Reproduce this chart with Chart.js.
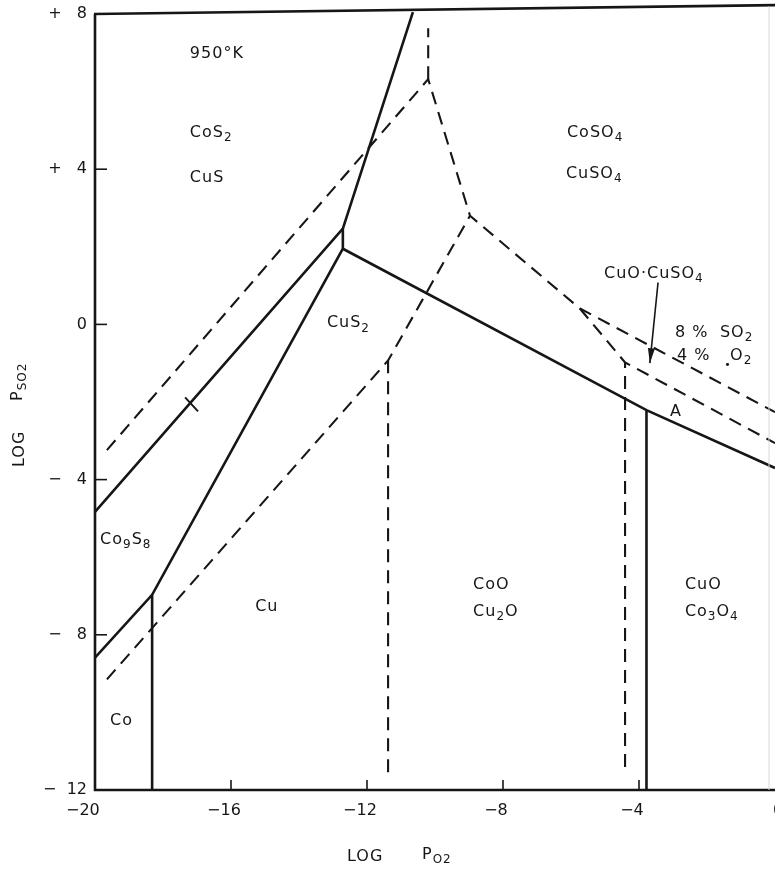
<!DOCTYPE html>
<html><head><meta charset="utf-8">
<style>html,body{margin:0;padding:0;background:#fff;overflow:hidden;}</style>
<script src="https://cdn.jsdelivr.net/npm/chart.js@4.4.1/dist/chart.umd.min.js"></script>
</head><body>
<canvas id="c" width="775" height="878" style="display:block;width:775px;height:878px"></canvas>
<script>
// ---------- axis ticks ----------
const xTickLabels = ['−20  ', '−16', '−12', '−8', '−4', '    0'];
const yTickLabels = ['−  12', '−   8', '−   4', '0', '+   4', '+   8'];

// ---------- solid phase boundaries (log pO2, log pSO2) ----------
const solidCoS2Upper = [[-20, -4.83], [-12.71, 2.47], [-10.65, 8.05]];
const solidCuS2Lower = [[-20, -8.59], [-18.32, -6.97], [-12.71, 1.95], [-12.71, 2.47]];
const solidCoVertical = [[-18.32, -12], [-18.32, -6.97]];
const solidSulfate = [[-12.71, 1.95], [-3.78, -2.21], [0, -3.70]];
const solidCuOVertical = [[-3.78, -12], [-3.78, -2.21]];
const crossMark = [[-17.35, -1.88], [-16.97, -2.24]];

// ---------- dashed boundaries ----------
const dashUpper = [[-19.65, -3.24], [-10.2, 6.32], [-8.97, 2.80], [-5.74, 0.41], [0, -2.26]];
const dashTop = [[-10.2, 6.32], [-10.2, 7.63]];
const dashLower = [[-19.65, -9.15], [-11.38, -0.93], [-8.97, 2.80]];
const dashLowerVertical = [[-11.38, -11.54], [-11.38, -0.93]];
const dashCuOCuSO4 = [[-5.74, 0.41], [-4.41, -0.98], [0, -3.06]];
const dashCuOVertical = [[-4.41, -11.41], [-4.41, -0.98]];
const arrowLine = [[-3.44, 1.08], [-3.68, -1.0]];

// ---------- region labels ({} = subscript) ----------
const labelText = ['950°K', 'CoS{2}', 'CuS', 'CoSO{4}', 'CuSO{4}', 'CuO·CuSO{4}', '8 %', 'SO{2}', '4 %', 'O{2}', 'A',
  'CuS{2}', 'Co{9}S{8}', 'Cu', 'CoO', 'Cu{2}O', 'CuO', 'Co{3}O{4}', 'Co'];
const labelX = [-17.21, -17.21, -17.21, -6.12, -6.15, -5.03, -2.94, -1.62, -2.88, -1.32, -3.09,
  -13.18, -19.85, -15.29, -8.88, -8.88, -2.65, -2.65, -19.56];
const labelY = [6.97, 4.94, 3.78, 4.94, 3.88, 1.31, -0.21, -0.21, -0.80, -0.80, -2.26,
  0.03, -5.55, -7.28, -6.71, -7.40, -6.71, -7.40, -10.23];
const dotMark = [-1.38, -1.05];

const INK = '#161616';
const FONT = '"DejaVu Sans", "Liberation Sans", sans-serif';

function toPts(a) { return a.map(p => ({ x: p[0], y: p[1] })); }
function solid(d, extra) { return Object.assign({ data: toPts(d), showLine: true, borderColor: INK, borderWidth: 2.6, pointRadius: 0, borderJoinStyle: 'miter', borderCapStyle: 'butt', fill: false }, extra || {}); }
function dashed(d, extra) { return Object.assign({ data: toPts(d), showLine: true, borderColor: INK, borderWidth: 2.1, borderDash: [13, 8], pointRadius: 0, borderJoinStyle: 'miter', borderCapStyle: 'butt', fill: false }, extra || {}); }

function drawRich(ctx, text, x, y, size) {
  const re = /\{([^}]*)\}|([^{]+)/g;
  let m, cx = x;
  ctx.textBaseline = 'middle';
  ctx.textAlign = 'left';
  while ((m = re.exec(text)) !== null) {
    if (m[1] !== undefined) {
      ctx.font = `${Math.round(size * 0.78)}px ${FONT}`;
      ctx.fillText(m[1], cx, y + size * 0.33);
      cx += ctx.measureText(m[1]).width;
    } else {
      ctx.font = `${size}px ${FONT}`;
      ctx.fillText(m[2], cx, y);
      cx += ctx.measureText(m[2]).width;
    }
  }
}

const decor = {
  id: 'decor',
  afterDatasetsDraw(chart) {
    const ctx = chart.ctx, xs = chart.scales.x, ys = chart.scales.y, ca = chart.chartArea;
    ctx.save();
    ctx.strokeStyle = INK; ctx.fillStyle = INK; ctx.lineCap = 'butt';
    // frame
    ctx.lineWidth = 2.6;
    ctx.beginPath();
    ctx.moveTo(ca.left, ys.getPixelForValue(8));
    ctx.lineTo(ca.left, ca.bottom);
    ctx.lineTo(ca.right, ca.bottom);
    ctx.stroke();
    ctx.beginPath();
    ctx.moveTo(ca.left - 1, ys.getPixelForValue(8));
    ctx.lineTo(ca.right, ys.getPixelForValue(8.23));
    ctx.stroke();
    // faint right edge
    ctx.lineWidth = 1;
    ctx.strokeStyle = '#d8d8d8';
    ctx.beginPath(); ctx.moveTo(ca.right - 6, ys.getPixelForValue(8.2)); ctx.lineTo(ca.right - 6, ca.bottom); ctx.stroke();
    ctx.strokeStyle = INK;
    // inward tick marks
    ctx.lineWidth = 1.6;
    xs.ticks.forEach(t => {
      if (t.value <= -20 || t.value >= 0) return;
      const px = xs.getPixelForValue(t.value);
      ctx.beginPath(); ctx.moveTo(px, ca.bottom); ctx.lineTo(px, ca.bottom - 10); ctx.stroke();
    });
    ys.ticks.forEach(t => {
      if (t.value <= -12 || t.value >= 8) return;
      const py = ys.getPixelForValue(t.value);
      ctx.beginPath(); ctx.moveTo(ca.left, py); ctx.lineTo(ca.left + 12, py); ctx.stroke();
    });
    // arrow head
    const meta = chart.getDatasetMeta(chart.data.datasets.findIndex(d => d.label === 'arrow'));
    const p0 = meta.data[0], p1 = meta.data[1];
    const ang = Math.atan2(p1.y - p0.y, p1.x - p0.x);
    const L = 15, W = 3.5;
    ctx.beginPath();
    ctx.moveTo(p1.x, p1.y);
    ctx.lineTo(p1.x - L * Math.cos(ang) + W * Math.sin(ang), p1.y - L * Math.sin(ang) - W * Math.cos(ang));
    ctx.lineTo(p1.x - L * Math.cos(ang) - W * Math.sin(ang), p1.y - L * Math.sin(ang) + W * Math.cos(ang));
    ctx.closePath(); ctx.fill();
    // labels
    ctx.letterSpacing = '1px';
    labelText.forEach((t, i) => {
      drawRich(ctx, t, xs.getPixelForValue(labelX[i]), ys.getPixelForValue(labelY[i]), 16);
    });
    ctx.font = `11px ${FONT}`;
    ctx.textAlign = 'center';
    ctx.fillText('•', xs.getPixelForValue(dotMark[0]), ys.getPixelForValue(dotMark[1]));
    // axis titles
    drawRich(ctx, 'LOG', 347, 857, 16);
    drawRich(ctx, 'P{O2}', 422, 855, 16);
    ctx.translate(20, 467);
    ctx.rotate(-Math.PI / 2);
    drawRich(ctx, 'LOG', 0, 0, 16);
    drawRich(ctx, 'P{SO2}', 66, -2, 16);
    ctx.restore();
  }
};

new Chart(document.getElementById('c'), {
  type: 'scatter',
  data: {
    datasets: [
      solid(solidCoS2Upper, { clip: false }),
      solid(solidCuS2Lower),
      solid(solidCoVertical),
      solid(solidSulfate),
      solid(solidCuOVertical),
      solid(crossMark, { borderWidth: 2 }),
      dashed(dashUpper),
      dashed(dashTop),
      dashed(dashLower),
      dashed(dashLowerVertical),
      dashed(dashCuOCuSO4),
      dashed(dashCuOVertical),
      solid(arrowLine, { label: 'arrow', borderWidth: 1.6 })
    ]
  },
  options: {
    responsive: false,
    animation: false,
    devicePixelRatio: 1,
    layout: { padding: { top: 14, right: 0, bottom: 0, left: 0 }, autoPadding: false },
    plugins: { legend: { display: false }, tooltip: { enabled: false } },
    scales: {
      x: {
        type: 'linear', min: -20, max: 0,
        grid: { display: false, drawTicks: false },
        border: { display: false },
        ticks: {
          stepSize: 4, autoSkip: false, maxRotation: 0, minRotation: 0,
          padding: 11, labelOffset: -7, color: INK,
          font: { family: 'DejaVu Sans', size: 16 },
          callback: (v, i) => xTickLabels[i]
        },
        afterFit: s => { s.height = 88; s.paddingLeft = 0; s.paddingRight = 0; }
      },
      y: {
        type: 'linear', min: -12, max: 8,
        grid: { display: false, drawTicks: false },
        border: { display: false },
        ticks: {
          stepSize: 4, autoSkip: false, padding: 8, color: INK,
          font: { family: 'DejaVu Sans', size: 16 },
          callback: (v, i) => yTickLabels[i]
        },
        afterFit: s => { s.width = 95; s.paddingTop = 0; s.paddingBottom = 0; }
      }
    }
  },
  plugins: [decor]
});
</script>
</body></html>
